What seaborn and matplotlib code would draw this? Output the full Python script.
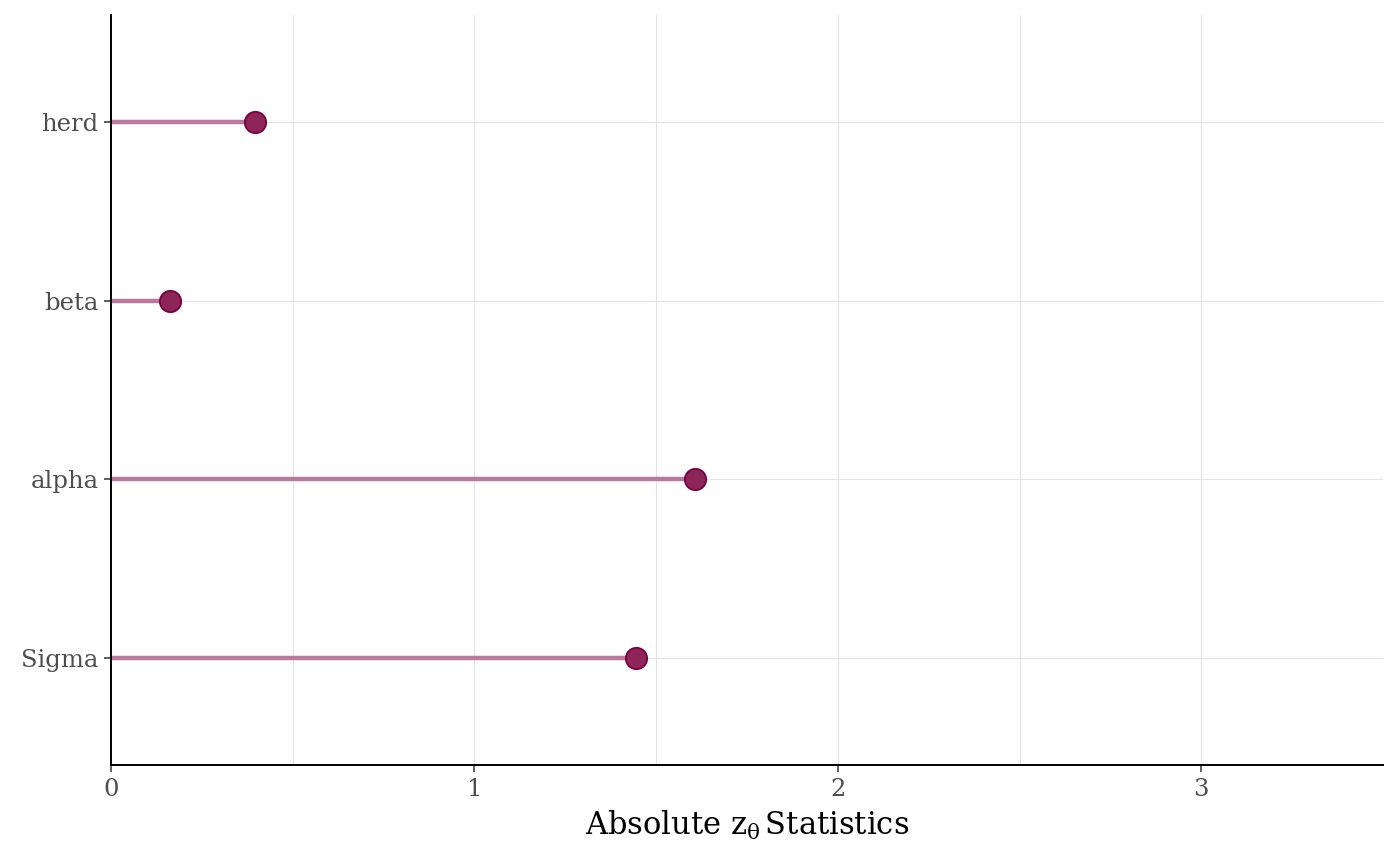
import matplotlib
matplotlib.use("Agg")
import matplotlib.pyplot as plt
import seaborn as sns
import pandas as pd

# values
params = ["Sigma", "alpha", "beta", "herd"]
abs_z = [1.445, 1.607, 0.162, 0.395]

STEM_COLOR = "#BA7A9E"
POINT_FILL = "#8E2558"
POINT_EDGE = "#7A0040"

df = pd.DataFrame({"param": params, "z": abs_z})

sns.set_theme(style="white")
plt.rcParams["font.family"] = ["DejaVu Serif"]
plt.rcParams["mathtext.fontset"] = "dejavuserif"

fig = plt.figure(figsize=(14, 8.66), dpi=100)
ax = fig.add_axes([111 / 1400, 1 - 765 / 866, (1383 - 111) / 1400, (765 - 15) / 866])

# grid lines first so marks sit on top
for gx in [0.5, 1, 1.5, 2, 2.5, 3, 3.5]:
    ax.axvline(gx, color="#E3E3E3", lw=0.8, zorder=0)
for gy in range(len(params)):
    ax.axhline(gy, color="#E3E3E3", lw=0.8, zorder=0)

ypos = list(range(len(params)))
ax.hlines(ypos, 0, df["z"], color=STEM_COLOR, lw=3.2, zorder=2)
sns.scatterplot(x=df["z"], y=ypos, ax=ax, s=235, color=POINT_FILL,
                edgecolor=POINT_EDGE, linewidth=1.3, zorder=3, legend=False)

ax.set_xlim(0, 3.5)
ax.set_ylim(-0.6, 3.6)
ax.set_xticks([0, 1, 2, 3])
ax.set_xticklabels(["0", "1", "2", "3"])
ax.set_yticks(ypos)
ax.set_yticklabels(params)
ax.tick_params(axis="both", labelsize=17.5, labelcolor="#4D4D4D", color="#333333",
               length=5, width=1.1, direction="out", pad=4, bottom=True, left=True)

ax.set_xlabel(r"Absolute $\mathrm{z}_{\mathrm{\theta}}\,$Statistics", fontsize=22, color="black", labelpad=6)
ax.set_ylabel("")

for side in ["top", "right"]:
    ax.spines[side].set_visible(False)
for side in ["left", "bottom"]:
    ax.spines[side].set_color("black")
    ax.spines[side].set_linewidth(1.4)

fig.savefig("out.png", dpi=100)
